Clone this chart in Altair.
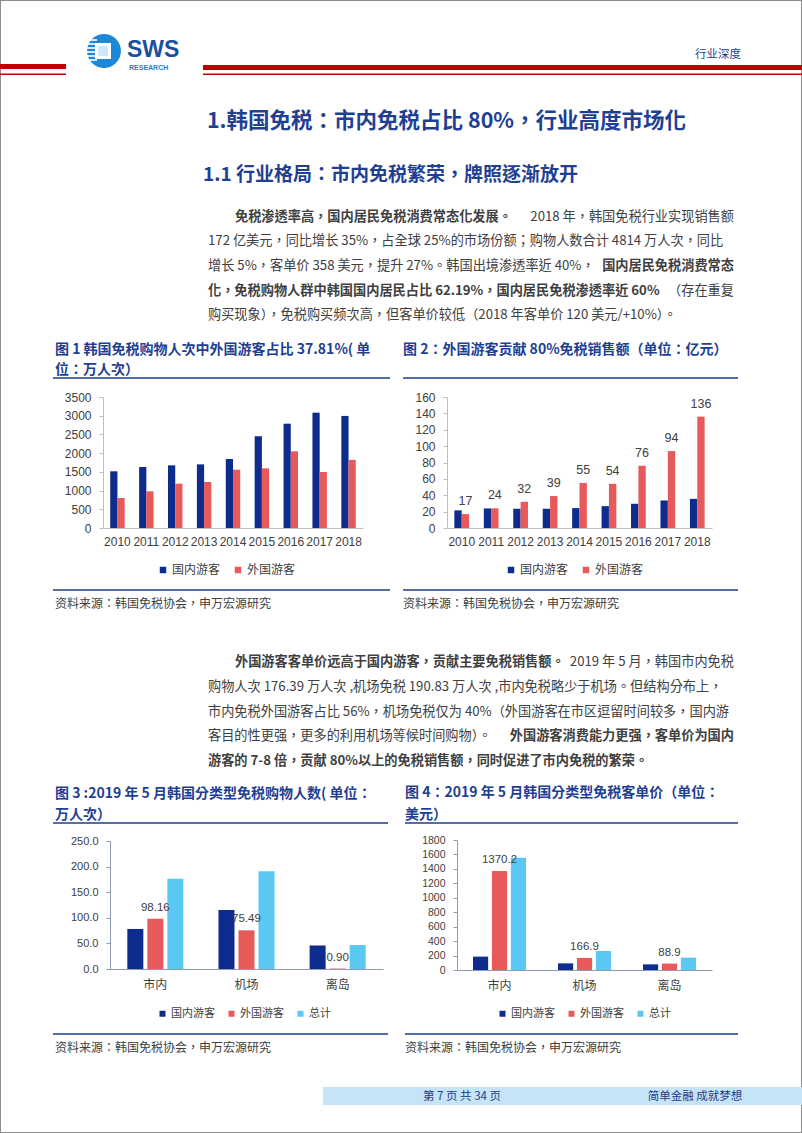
import altair as alt
import pandas as pd

# ---------------- data ----------------
years = ['2010', '2011', '2012', '2013', '2014', '2015', '2016', '2017', '2018']
visits_domestic = [1515, 1630, 1674, 1700, 1843, 2449, 2787, 3081, 2994]
visits_foreign = [801, 980, 1184, 1229, 1558, 1594, 2048, 1496, 1820]
sales_domestic = [21.5, 23.9, 23.5, 23.5, 24.3, 26.7, 29.6, 33.6, 35.6]
sales_foreign = [17, 24, 32, 39, 55, 54, 76, 94, 136]
channels = ['市内', '机场', '离岛']
buyers_domestic = [78.23, 115.34, 45.9]
buyers_foreign = [98.16, 75.49, 0.90]
buyers_total = [176.39, 190.83, 46.8]
price_domestic = [185, 92, 78]
price_foreign = [1370.2, 166.9, 88.9]
price_total = [1555, 263, 171]
series2 = ['国内游客', '外国游客']
series3 = ['国内游客', '外国游客', '总计']
ticks1 = [0, 500, 1000, 1500, 2000, 2500, 3000, 3500]
ticks2 = [0, 20, 40, 60, 80, 100, 120, 140, 160]
ticks3 = [0, 50, 100, 150, 200, 250]
ticks4 = [0, 200, 400, 600, 800, 1000, 1200, 1400, 1600, 1800]

# ---------------- style ----------------
CJK = 'Noto Sans CJK SC'
CJKP = 'Noto Sans CJK TC'   # centred full-width punctuation, like the reference
ARIAL = 'Liberation Sans'
TXT = '#404040'
NAVY = '#1F3F93'
LINE_BLUE = '#1F3C88'
RED = '#C00000'
C_DOM = '#0E2C8E'
C_FOR = '#E8595A'
C_TOT = '#5BC8F4'

ONE = pd.DataFrame({'k': [0]})


def T(s, x, y, size, color=TXT, weight='normal', align='left', font=CJKP):
    return alt.Chart(ONE).mark_text(
        text=s, align=align, baseline='middle', font=font, fontSize=size,
        fontWeight=weight, color=color
    ).encode(x=alt.value(x), y=alt.value(y))


def R(x1, x2, y1, y2, color):
    return alt.Chart(ONE).mark_rect(color=color).encode(
        x=alt.value(x1), x2=alt.value(x2), y=alt.value(y1), y2=alt.value(y2))


def L(x1, x2, y, color, w=1.0):
    return alt.Chart(ONE).mark_rule(color=color, strokeWidth=w).encode(
        x=alt.value(x1), x2=alt.value(x2), y=alt.value(y))


def long_df(cats, cols, names):
    rows = []
    for name, vals in zip(names, cols):
        for c, v in zip(cats, vals):
            rows.append({'cat': c, 'series': name, 'value': v})
    return pd.DataFrame(rows)


def grouped(df, cats, series, colors, xr, pi, po, xo_pi, yr, ydom, yticks, yfmt,
            ylab_size, xlab_font, xlab_size, xlab_pad, x_off, y_off, lab_fmt,
            lab_size, lab_dy, lx, ly, leg_size, sym_size, dom_color, with_labels=True):
    x = alt.X('cat:N', sort=cats, title=None,
              scale=alt.Scale(domain=cats, range=xr, paddingInner=pi, paddingOuter=po),
              axis=alt.Axis(orient='bottom', offset=x_off, ticks=False, labelPadding=xlab_pad,
                            labelFont=xlab_font, labelFontSize=xlab_size, labelColor=TXT,
                            domainColor=dom_color, domainWidth=1, grid=False, labelAngle=0))
    xo = alt.XOffset('series:N', sort=series,
                     scale=alt.Scale(domain=series, paddingInner=xo_pi, paddingOuter=0))
    y = alt.Y('value:Q', title=None,
              scale=alt.Scale(domain=ydom, range=yr, nice=False, zero=True),
              axis=alt.Axis(orient='left', offset=y_off, values=yticks, format=yfmt,
                            grid=False, ticks=True, tickSize=4, tickColor=dom_color,
                            domainColor=dom_color, labelPadding=8, labelFont=ARIAL,
                            labelFontSize=ylab_size, labelColor=TXT, labelOverlap=False))
    color = alt.Color('series:N', sort=series,
                      scale=alt.Scale(domain=series, range=colors),
                      legend=alt.Legend(orient='none', legendX=lx, legendY=ly,
                                        direction='horizontal', title=None,
                                        symbolType='square', symbolSize=sym_size,
                                        symbolStrokeWidth=0, labelFont=CJK,
                                        labelFontSize=leg_size, labelColor=TXT,
                                        columnPadding=11, labelOffset=3))
    bars = alt.Chart(df).mark_bar().encode(x=x, xOffset=xo, y=y, color=color)
    if not with_labels:
        return bars
    labels = alt.Chart(df).transform_filter(alt.datum.series == '外国游客').mark_text(
        baseline='bottom', dy=lab_dy, font=ARIAL, fontSize=lab_size, color=TXT
    ).encode(x=x, xOffset=xo, y=y, text=alt.Text('value:Q', format=lab_fmt))
    return alt.layer(bars, labels)


H = 1133

df1 = long_df(years, [visits_domestic, visits_foreign], series2)
df2 = long_df(years, [sales_domestic, sales_foreign], series2)
df3 = long_df(channels, [buyers_domestic, buyers_foreign, buyers_total], series3)
df4 = long_df(channels, [price_domestic, price_foreign, price_total], series3)

c1 = grouped(df1, years, series2, [C_DOM, C_FOR], [103, 363], 0.5, 0.25, 0.0,
             [528, 397], [0, 3500], ticks1, 'd', 12, ARIAL, 12, 8, -(H - 528), -103,
             'd', 12, -6, 157, 564, 12, 42, '#BFBFBF', with_labels=False)
c2 = grouped(df2, years, series2, [C_DOM, C_FOR], [447, 712], 0.5, 0.25, 0.0,
             [528, 397], [0, 160], ticks2, 'd', 12, ARIAL, 12, 8, -(H - 528), -447,
             'd', 12.5, -6, 505, 564, 12, 42, '#BFBFBF')
c3 = grouped(df3, channels, series3, [C_DOM, C_FOR, C_TOT], [110, 383], 0.385, 0.19, 0.2,
             [969, 841], [0, 250], ticks3, '.1f', 11, CJK, 12, 10, -(H - 969), -110,
             '.2f', 11.5, -6, 157, 1008, 11, 36, '#8E9BB3')
c4 = grouped(df4, channels, series3, [C_DOM, C_FOR, C_TOT], [457, 712], 0.376, 0.188, 0.2,
             [970, 840], [0, 1800], ticks4, 'd', 10.5, CJK, 12, 10, -(H - 970), -457,
             '.1f', 11.5, -6, 497, 1008, 11, 36, '#8E9BB3')

# ---------------- page decoration ----------------
deco = []
# header red rules
deco += [R(0, 66, 64, 69, RED), R(0, 66, 73.5, 75, RED),
         R(203, 802, 65, 70, RED), R(203, 802, 73.5, 75, RED)]
# logo
deco.append(alt.Chart(ONE).mark_point(shape='circle', filled=True, size=1150,
                                      color='#1E88D8', opacity=1).encode(
    x=alt.value(104), y=alt.value(51)))
for yy in [40, 44, 48, 52, 56, 60]:
    deco.append(L(86, 97, yy, 'white', 1.6))
deco.append(R(95, 111, 43, 59, 'white'))
deco.append(R(98, 108, 46, 56, '#CFE8F8'))
deco.append(T('SWS', 127, 49.5, 23, '#1A4FA3', 'bold', 'left', ARIAL))
deco.append(T('RESEARCH', 129, 67.5, 7, '#1E7FD0', 'bold', 'left', ARIAL))
deco.append(T('行业深度', 718, 55, 11.5, LINE_BLUE, 'normal', 'center', CJK))

# headings
deco.append(T('1.韩国免税：市内免税占比 80%，行业高度市场化', 446.5, 122, 21.5, NAVY, 'bold', 'center'))
deco.append(T('1.1 行业格局：市内免税繁荣，牌照逐渐放开', 203, 175, 19, NAVY, 'bold', 'left'))

# paragraph 1
FS = 13.2
LX, RX, IX = 208, 734, 235
deco += [
    T('免税渗透率高，国内居民免税消费常态化发展。', IX, 216.5, FS, TXT, 'bold'),
    T('2018 年，韩国免税行业实现销售额', RX, 216.5, FS, TXT, 'normal', 'right'),
    T('172 亿美元，同比增长 35%，占全球 25%的市场份额；购物人数合计 4814 万人次，同比', LX, 241, FS),
    T('增长 5%，客单价 358 美元，提升 27%。韩国出境渗透率近 40%，', LX, 266, FS),
    T('国内居民免税消费常态', RX, 266, FS, TXT, 'bold', 'right'),
    T('化，免税购物人群中韩国国内居民占比 62.19%，国内居民免税渗透率近 60%', LX, 290.5, FS, TXT, 'bold'),
    T('（存在重复', RX, 290.5, FS, TXT, 'normal', 'right'),
    T('购买现象），免税购买频次高，但客单价较低（2018 年客单价 120 美元/+10%）。', LX, 315, FS),
]

# paragraph 2
deco += [
    T('外国游客客单价远高于国内游客，贡献主要免税销售额。', IX, 662, FS, TXT, 'bold'),
    T('2019 年 5 月，韩国市内免税', RX, 662, FS, TXT, 'normal', 'right'),
    T('购物人次 176.39 万人次 ,机场免税 190.83 万人次 ,市内免税略少于机场。但结构分布上，', LX, 687, FS),
    T('市内免税外国游客占比 56%，机场免税仅为 40%（外国游客在市区逗留时间较多，国内游', LX, 711.5, FS),
    T('客目的性更强，更多的利用机场等候时间购物）。', LX, 736, FS),
    T('外国游客消费能力更强，客单价为国内', RX, 736, FS, TXT, 'bold', 'right'),
    T('游客的 7-8 倍，贡献 80%以上的免税销售额，同时促进了市内免税的繁荣。', LX, 760.5, FS, TXT, 'bold'),
]

# figure titles, rules, sources
FT = 14
deco += [
    T('图 1 韩国免税购物人次中外国游客占比 37.81%( 单', 55, 350, FT, NAVY, 'bold'),
    T('位：万人次）', 55, 370, FT, NAVY, 'bold'),
    T('图 2：外国游客贡献 80%免税销售额（单位：亿元）', 403, 350, FT, NAVY, 'bold'),
    L(53, 390, 378, LINE_BLUE, 1.5), L(403, 738, 378, LINE_BLUE, 1.5),
    L(53, 390, 590, LINE_BLUE, 1.5), L(403, 738, 590, LINE_BLUE, 1.5),
    T('资料来源：韩国免税协会，申万宏源研究', 55, 604, 12),
    T('资料来源：韩国免税协会，申万宏源研究', 403, 604, 12),
    T('图 3 :2019 年 5 月韩国分类型免税购物人数( 单位：', 55, 794, FT, NAVY, 'bold'),
    T('万人次）', 55, 815, FT, NAVY, 'bold'),
    T('图 4：2019 年 5 月韩国分类型免税客单价（单位：', 405, 793, FT, NAVY, 'bold'),
    T('美元）', 405, 815, FT, NAVY, 'bold'),
    L(53, 388, 823, LINE_BLUE, 1.5), L(405, 738, 823, LINE_BLUE, 1.5),
    L(53, 388, 1034, LINE_BLUE, 1.5), L(405, 738, 1034, LINE_BLUE, 1.5),
    T('资料来源：韩国免税协会，申万宏源研究', 55, 1048, 12),
    T('资料来源：韩国免税协会，申万宏源研究', 405, 1048, 12),
]

# footer
deco += [
    R(323, 802, 1087, 1105, '#C6E4F7'),
    T('第 7 页 共 34 页', 462, 1096.5, 11.5, LINE_BLUE, 'normal', 'center', CJK),
    T('简单金融 成就梦想', 695, 1096.5, 11.5, LINE_BLUE, 'normal', 'center', CJK),
]

chart = alt.layer(*deco, c1, c2, c3, c4).resolve_scale(
    x='independent', y='independent', xOffset='independent', color='independent'
).properties(
    width=802, height=1133, padding=0,
    autosize=alt.AutoSizeParams(type='none'), background='white'
).configure_view(stroke='#8C8C8C', strokeWidth=2)

chart.save('out.html', embed_options={'renderer': 'svg', 'actions': False})
